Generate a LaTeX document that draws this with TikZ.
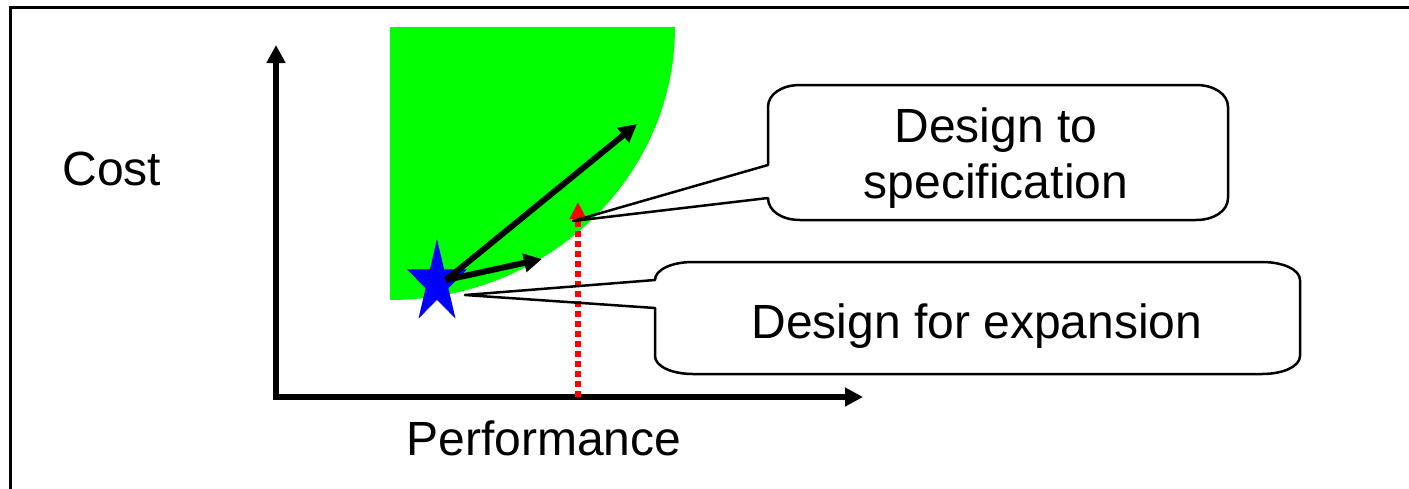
\documentclass[tikz,border=0pt]{standalone}
\usepackage{fontspec}
\setmainfont{Liberation Sans}
\usetikzlibrary{arrows.meta}
\definecolor{grn}{RGB}{0,255,0}
\definecolor{starblue}{RGB}{0,0,255}
\definecolor{redline}{RGB}{255,0,0}
\begin{document}
\begin{tikzpicture}[x=1pt,y=-1pt,
  lbl/.style={font=\fontsize{48}{56}\selectfont, inner sep=0pt, text=black},
  axisline/.style={line width=6.5pt, line join=miter,
     {Triangle[length=18pt,width=18pt]}-{Triangle[length=18pt,width=18pt]}},
  movearrow/.style={line width=6pt, -{Triangle[length=18pt,width=18pt]}},
  redarrow/.style={draw=redline, line width=6pt, dash pattern=on 6pt off 4pt,
     -{Triangle[length=17pt,width=16pt]}},
  calloutshape/.style={draw=black, line width=2.5pt, line join=round},
  framestyle/.style={draw=black, line width=3pt}
]
\useasboundingbox (0,0) rectangle (1409,488);

% frame
\draw[framestyle] (10,495) -- (10,7) -- (1420,7);

% feasible region
\fill[grn] (390,27) -- (675,27) .. controls (675,178) and (547,300) .. (390,300) -- cycle;

% star
\coordinate (st) at (437,283);
\fill[starblue] (437,239) -- (444.1,269.4) -- (467,269.4) -- (448.4,288.2)
  -- (455.5,318.6) -- (437,299.8) -- (418.5,318.6) -- (425.6,288.2)
  -- (407,269.4) -- (429.9,269.4) -- cycle;

% moves from star
\coordinate (src) at (446,280);
\coordinate (longtip) at (637,124);
\coordinate (shorttip) at (542,259);
\draw[movearrow] (src) -- (longtip);
\draw[movearrow] (src) -- (shorttip);

% axes
\coordinate (O) at (276,397);
\coordinate (ytip) at (276,45);
\coordinate (xtip) at (863,397);
\draw[axisline] (ytip) -- (O) -- (xtip);

% red dotted arrow
\coordinate (rb) at (578,397);
\coordinate (rt) at (578,202);
\draw[redarrow] (rb) -- (rt);

% callout 1
\draw[calloutshape] (768,107) .. controls (768,94) and (782,85) .. (800,85)
  -- (1196,85) .. controls (1214,85) and (1228,94) .. (1228,107)
  -- (1228,198) .. controls (1228,211) and (1214,220) .. (1196,220)
  -- (800,220) .. controls (782,220) and (768,211) .. (768,198)
  -- (573,221) -- (768,165) -- cycle;

% callout 2
\draw[calloutshape] (655,280) .. controls (655,270) and (671.1,262) .. (693,262)
  -- (1262,262) .. controls (1283.9,262) and (1300,270) .. (1300,280)
  -- (1300,356) .. controls (1300,366) and (1283.9,374) .. (1262,374)
  -- (693,374) .. controls (671.1,374) and (655,366) .. (655,356)
  -- (655,308) -- (465,295) -- cycle;

% labels
\node[lbl, anchor=base] (cost) at (112,185) {Cost};
\node[lbl, anchor=base] (perf) at (544,455) {Performance};
\node[lbl, align=center] (spec) at (996,158) {Design to\\specification};
\node[lbl, anchor=base] (exp) at (977,338) {Design for expansion};
\end{tikzpicture}
\end{document}
